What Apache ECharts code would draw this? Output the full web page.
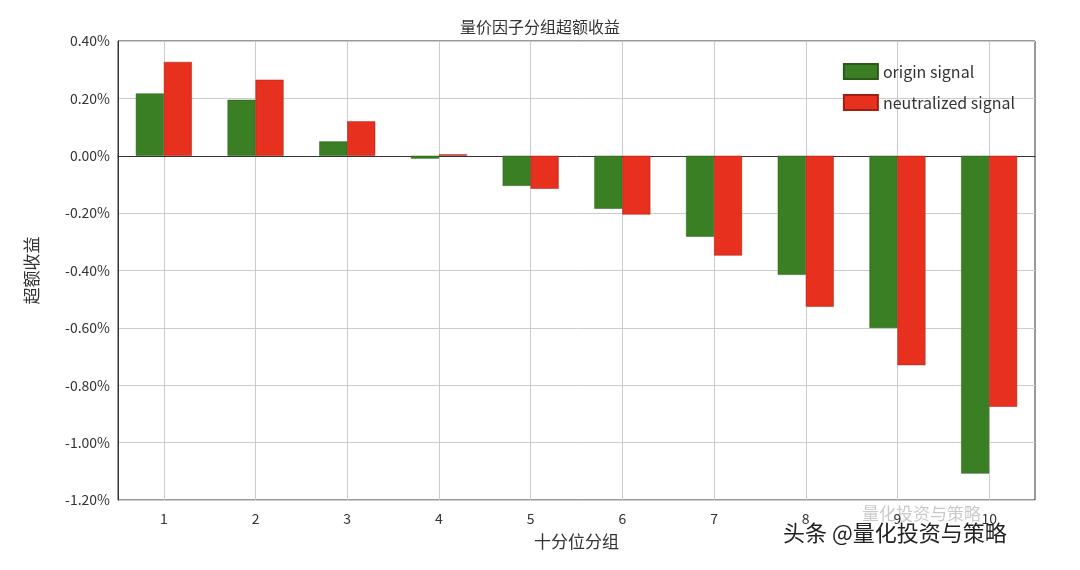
<!DOCTYPE html><html><head><meta charset="utf-8"><script src="https://cdn.jsdelivr.net/npm/echarts@6/dist/echarts.min.js"></script></head><body style="margin:0"><div id="c" style="width:1080px;height:570px"></div><script>
const categories=['1','2','3','4','5','6','7','8','9','10'];
const origin=[0.217,0.195,0.05,-0.01,-0.105,-0.185,-0.282,-0.415,-0.60,-1.108];
const neutral=[0.327,0.265,0.12,0.005,-0.115,-0.205,-0.348,-0.526,-0.73,-0.875];
const half=[];for(let i=0;i<=20;i++)half.push(String(i));
const f="'Noto Sans CJK SC','DejaVu Sans',sans-serif";
const ch=echarts.init(document.getElementById('c'));
ch.setOption({
title:{text:'量价因子分组超额收益',left:'center',top:14,textStyle:{fontSize:16,fontWeight:'normal',color:'#333',fontFamily:f}},
legend:{orient:'vertical',right:60,top:58,itemWidth:34,itemHeight:15,itemGap:14,textStyle:{fontSize:16,color:'#333',fontFamily:f},icon:'rect'},
grid:{left:118,right:45,top:41,bottom:70},
xAxis:[{type:'category',data:categories,name:'十分位分组',nameLocation:'middle',nameGap:33,nameTextStyle:{fontSize:17,color:'#333',fontFamily:f},
axisLine:{lineStyle:{color:'#333'}},axisTick:{show:false},axisLabel:{fontSize:14,color:'#333',margin:12,fontFamily:f}},
{type:'category',data:half,boundaryGap:false,position:'bottom',axisLine:{show:false},axisTick:{show:false},axisLabel:{show:false},
splitLine:{show:true,interval:(i)=>i%2===1,lineStyle:{color:'#ccc'}}}],
yAxis:{type:'value',min:-1.2,max:0.4,interval:0.2,name:'超额收益',nameLocation:'middle',nameGap:78,nameTextStyle:{fontSize:17,color:'#333',fontFamily:f},
axisLine:{show:true,lineStyle:{color:'#333'}},axisLabel:{fontSize:14,color:'#333',formatter:v=>v.toFixed(2)+'%',fontFamily:f},splitLine:{lineStyle:{color:'#ccc'}}},
series:[{name:'origin signal',type:'bar',data:origin,barWidth:28,barGap:'0%',itemStyle:{color:'#3a7f24',borderColor:'#2a5a1a',borderWidth:0.5}},
{name:'neutralized signal',type:'bar',data:neutral,barWidth:28,itemStyle:{color:'#e8301f',borderColor:'#a02010',borderWidth:0.5}}],
graphic:[{type:'rect',shape:{x:118,y:41,width:917,height:459},style:{fill:'none',stroke:'#333',lineWidth:1},silent:true},
{type:'text',left:783,top:522,style:{text:'头条 @量化投资与策略',fontSize:22,fill:'#222',fontFamily:f}},
{type:'text',left:862,top:505,style:{text:'量化投资与策略',fontSize:17,fill:'rgba(120,120,120,0.4)',fontFamily:f}}]
});
</script></body></html>
